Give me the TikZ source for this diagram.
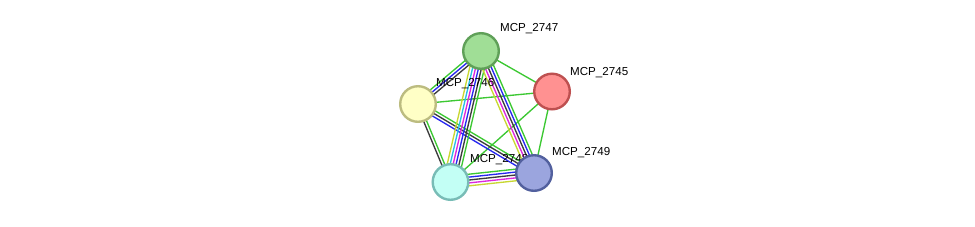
\documentclass[tikz,border=0pt]{standalone}
\usepackage{fontspec}
\setmainfont{Liberation Sans}
\usetikzlibrary{calc}
\pgfdeclarelayer{background}
\pgfsetlayers{background,main}
\definecolor{eGreen}{RGB}{60,200,50}
\definecolor{eBlue}{RGB}{40,40,240}
\definecolor{eBlack}{RGB}{60,60,60}
\definecolor{eMag}{RGB}{220,40,220}
\definecolor{eYel}{RGB}{200,215,50}
\definecolor{eCyan}{RGB}{40,190,230}
\definecolor{gFill}{RGB}{160,222,150}\definecolor{gLine}{RGB}{95,160,88}
\definecolor{rFill}{RGB}{255,145,145}\definecolor{rLine}{RGB}{190,80,80}
\definecolor{yFill}{RGB}{255,255,198}\definecolor{yLine}{RGB}{188,188,128}
\definecolor{cFill}{RGB}{195,255,245}\definecolor{cLine}{RGB}{120,188,182}
\definecolor{bFill}{RGB}{155,165,222}\definecolor{bLine}{RGB}{82,96,158}
\tikzset{
  prot/.style={circle,draw,line width=2.4pt,minimum size=35.6pt,inner sep=0pt},
  lbl/.style={anchor=base west,inner sep=0pt,font=\fontsize{11.6}{13}\selectfont},
  edge/.style={line width=1.35pt}
}
\newcommand\bundle[4]{%
  \foreach \c [count=\i] in {#4} {%
    \pgfmathsetmacro\off{(\i-1-(#3-1)/2)*2.9}%
    \draw[edge,\c] ($(#1.center)!\off pt!90:(#2.center)$) -- ($(#2.center)!\off pt!-90:(#1.center)$);
  }}
\begin{document}
\begin{tikzpicture}[x=1pt,y=-1pt]
\useasboundingbox (0,0) rectangle (975,226);
\coordinate (p2747) at (481,51);
\coordinate (p2745) at (552,91.5);
\coordinate (p2746) at (418,104);
\coordinate (p2748) at (450.5,182);
\coordinate (p2749) at (534,173);
% labels
\node[lbl] (l2747) at (500,31.5) {MCP\_2747};
\node[lbl] (l2745) at (570,75) {MCP\_2745};
\node[lbl] (l2746) at (436,86) {MCP\_2746};
\node[lbl] (l2749) at (552,155) {MCP\_2749};
\node[lbl] (l2748) at (470,162.5) {MCP\_2748};
% nodes
\node[prot,fill=gFill,draw=gLine] (n2747) at (p2747) {};
\node[prot,fill=rFill,draw=rLine] (n2745) at (p2745) {};
\node[prot,fill=yFill,draw=yLine] (n2746) at (p2746) {};
\node[prot,fill=cFill,draw=cLine] (n2748) at (p2748) {};
\node[prot,fill=bFill,draw=bLine] (n2749) at (p2749) {};
\begin{pgfonlayer}{background}
\bundle{n2747}{n2745}{1}{eGreen}
\bundle{n2746}{n2745}{1}{eGreen}
\bundle{n2745}{n2748}{1}{eGreen}
\bundle{n2745}{n2749}{1}{eGreen}
\bundle{n2747}{n2746}{3}{eGreen,eBlue,eBlack}
\bundle{n2746}{n2748}{2}{eBlack,eGreen}
\bundle{n2746}{n2749}{3}{eBlue,eBlack,eGreen}
\bundle{n2747}{n2748}{6}{eYel,eCyan,eMag,eBlue,eBlack,eGreen}
\bundle{n2747}{n2749}{5}{eYel,eMag,eBlack,eBlue,eGreen}
\bundle{n2748}{n2749}{5}{eYel,eMag,eBlack,eBlue,eGreen}
\end{pgfonlayer}
\end{tikzpicture}
\end{document}
